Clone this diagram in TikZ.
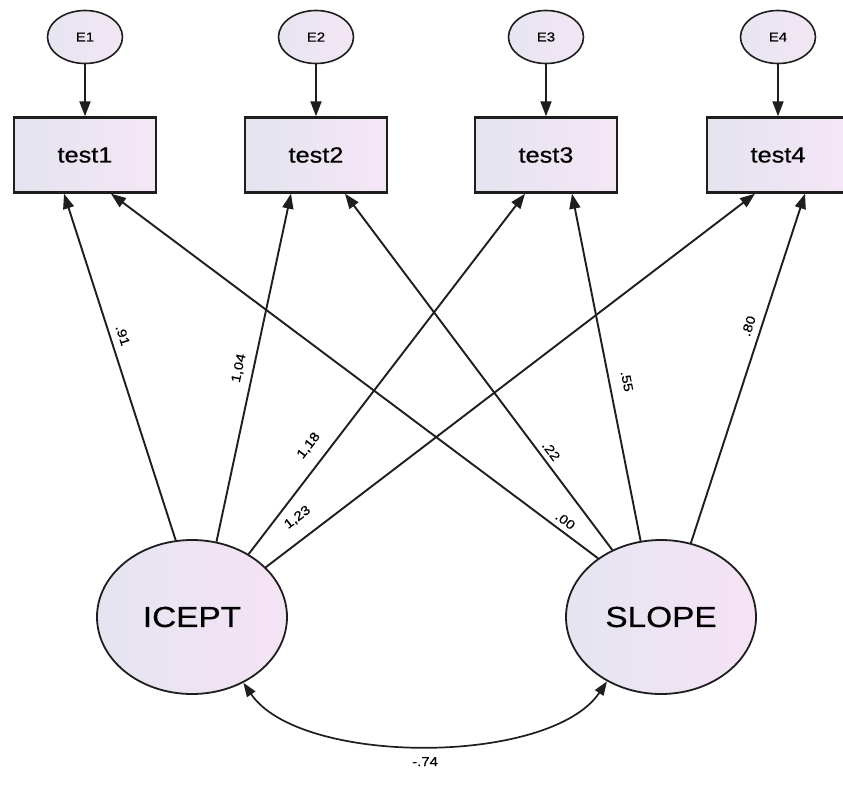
\documentclass[tikz,border=0pt]{standalone}
\usepackage{fontspec}
\setmainfont{Liberation Sans}
\newfontfamily\amosfont[FakeStretch=1.15,FakeBold=0.5]{Liberation Sans}
\usetikzlibrary{shapes.geometric,arrows.meta,calc}
\definecolor{errL}{HTML}{E6E5F1}
\definecolor{errR}{HTML}{F4E6F4}
\definecolor{boxL}{HTML}{E3E3EE}
\definecolor{boxR}{HTML}{F5E6F6}
\definecolor{latL}{HTML}{E5E4F1}
\definecolor{latR}{HTML}{F5E3F5}
\definecolor{inkc}{HTML}{1E1E1E}
\begin{document}
\begin{tikzpicture}[x=1pt,y=-1pt,
  errnode/.style={ellipse,draw=inkc,line width=1.6pt,minimum width=75pt,minimum height=53pt,inner sep=0pt,left color=errL,right color=errR,font=\amosfont\fontsize{13}{14}\selectfont},
  obsbox/.style={rectangle,draw=inkc,line width=2.4pt,minimum width=142pt,minimum height=75pt,left color=boxL,right color=boxR,font=\amosfont\fontsize{22}{24}\selectfont},
  latent/.style={ellipse,draw=inkc,line width=1.8pt,minimum width=190pt,minimum height=154pt,inner sep=0pt,left color=latL,right color=latR,font=\amosfont\fontsize{29}{32}\selectfont},
  loadarrow/.style={draw=inkc,line width=1.9pt,-{Triangle[length=15pt,width=11pt]}},
  covarrow/.style={draw=inkc,line width=1.7pt,{Triangle[length=14pt,width=10pt]}-{Triangle[length=14pt,width=10pt]}},
  wlab/.style={sloped,font=\amosfont\fontsize{13}{14}\selectfont,inner sep=2pt}
]
\useasboundingbox (0,0) rectangle (843,793);
\clip (0,0) rectangle (843,793);
\fill[white] (0,0) rectangle (843,793);

% error terms
\node[errnode] (E1) at (85,37) {E1};
\node[errnode] (E2) at (316,37) {E2};
\node[errnode] (E3) at (546,37) {E3};
\node[errnode] (E4) at (778,37) {E4};

% observed variables
\node[obsbox] (t1) at (85,155) {test1};
\node[obsbox] (t2) at (316,155) {test2};
\node[obsbox] (t3) at (546,155) {test3};
\node[obsbox] (t4) at (778,155) {test4};

% latent factors
\node[latent] (IC) at (192,617) {ICEPT};
\node[latent] (SL) at (661,617) {SLOPE};

% arrows from errors
\draw[loadarrow] (E1) -- (t1);
\draw[loadarrow] (E2) -- (t2);
\draw[loadarrow] (E3) -- (t3);
\draw[loadarrow] (E4) -- (t4);

% end points at the bottom of the boxes
\coordinate (t1a) at ($(t1.south)+(-21,0)$);
\coordinate (t1b) at ($(t1.south)+(26,0)$);
\coordinate (t2a) at ($(t2.south)+(-25,0)$);
\coordinate (t2b) at ($(t2.south)+(29,0)$);
\coordinate (t3a) at ($(t3.south)+(-21,0)$);
\coordinate (t3b) at ($(t3.south)+(26,0)$);
\coordinate (t4a) at ($(t4.south)+(-23,0)$);
\coordinate (t4b) at ($(t4.south)+(27,0)$);

% loadings from ICEPT
\draw[loadarrow] (IC.102) -- node[wlab,pos=0.58,above=5pt] {.91} (t1a);
\draw[loadarrow] (IC.72) -- node[wlab,pos=0.49,above=6pt] {1,04} (t2a);
\draw[loadarrow] (IC.48) -- node[wlab,pos=0.27,above=10pt] {1,18} (t3a);
\draw[loadarrow] (IC.34) -- node[wlab,pos=0.09,above=12pt] {1,23} (t4a);

% loadings from SLOPE
\draw[loadarrow] (SL.137) -- node[wlab,pos=0.08,above=3pt] {.00} (t1b);
\draw[loadarrow] (SL.126) -- node[wlab,pos=0.26,above=3pt] {.22} (t2b);
\draw[loadarrow] (SL.105) -- node[wlab,pos=0.45,above=10pt] {.55} (t3b);
\draw[loadarrow] (SL.68) -- node[wlab,pos=0.61,above=5pt] {.80} (t4b);

% covariance
\draw[covarrow] (IC.-52) .. controls (300,766) and (550,766) .. node[pos=0.5,below=8pt,font=\amosfont\fontsize{13}{14}\selectfont] {-.74} (SL.230);
\end{tikzpicture}
\end{document}
